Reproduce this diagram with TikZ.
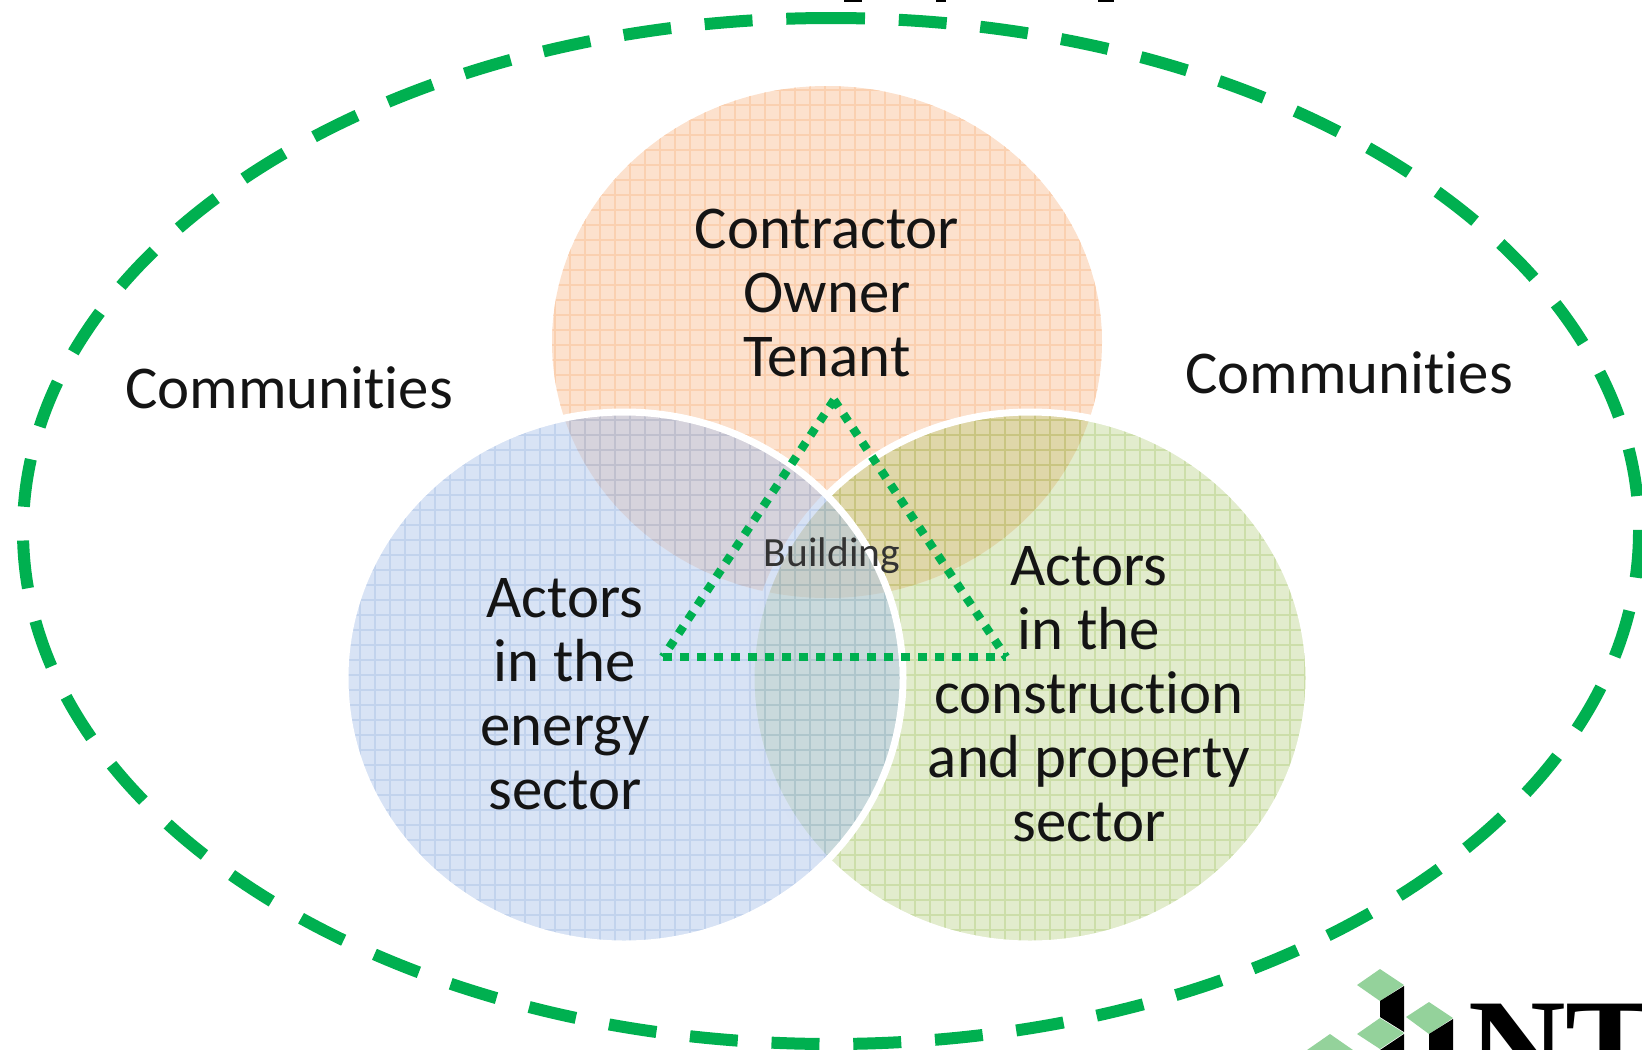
\documentclass[tikz,border=0pt]{standalone}
\usepackage{fontspec}
\setmainfont{Carlito}[Ligatures=NoCommon]
\newfontfamily\logofont{Liberation Serif}
\usetikzlibrary{positioning}
\definecolor{ringgreen}{RGB}{0,176,80}
\definecolor{logogreen}{RGB}{148,210,155}
\definecolor{orangefill}{RGB}{252,225,205}
\definecolor{orangegrid}{RGB}{250,208,176}
\definecolor{greenfill}{RGB}{158,192,88}
\definecolor{greengrid}{RGB}{150,185,80}
\definecolor{bluefill}{RGB}{177,199,235}
\definecolor{bluegrid}{RGB}{120,155,210}
\begin{document}
\begin{tikzpicture}[x=1pt,y=-1pt]
% -------------------------------------------------
% A few styles
\tikzset{
  label/.style={align=center, inner sep=0pt, text=black!92, font={\fontsize{60.8}{64}\selectfont}},
  small/.style={align=center, inner sep=0pt, text=black!80, font={\fontsize{41.5}{44}\selectfont}},
  ring/.style={draw=ringgreen, line width=12pt, dash pattern=on 48pt off 33.8pt, dash phase=14pt},
  tri/.style={draw=ringgreen, line width=8.5pt, dash pattern=on 8.5pt off 8.5pt},
  rim/.style={draw=white, line width=7pt},
  mesh/.style={line width=1.2pt, step=15pt},
  tile/.style={fill=logogreen},
  ink/.style={fill=black}
}
\useasboundingbox (0,0) rectangle (1642,1050);
% -------------------------------------------------
% Start with the three lobes, orange at the back and blue in front
\coordinate (corange) at (827,342);
\coordinate (cgreen) at (1030,678);
\coordinate (cblue) at (624,678);
\fill [orangefill] (corange) ellipse [x radius=275, y radius=256];
\begin{scope}
  \clip (corange) ellipse [x radius=275, y radius=256];
  \draw [mesh, orangegrid] (540,80) grid (1110,610);
\end{scope}
\fill [greenfill, fill opacity=.3] (cgreen) ellipse [x radius=279, y radius=266];
\begin{scope}
  \clip (cgreen) ellipse [x radius=279, y radius=266];
  \draw [mesh, greengrid, opacity=.28] (750,405) grid (1320,945);
\end{scope}
\draw [rim] (cgreen) ellipse [x radius=279, y radius=266];
\fill [bluefill, fill opacity=.5] (cblue) ellipse [x radius=279, y radius=266];
\begin{scope}
  \clip (cblue) ellipse [x radius=279, y radius=266];
  \draw [mesh, bluegrid, opacity=.22] (345,405) grid (905,945);
\end{scope}
\draw [rim] (cblue) ellipse [x radius=279, y radius=266];
% -------------------------------------------------
% The dashed ring round everything, begun at its top point
\coordinate (rtop) at (831,18);
\draw [ring] (rtop) arc [start angle=-90, end angle=270, x radius=808, y radius=513];
% -------------------------------------------------
% The dotted triangle
\coordinate (tapex) at (834,400);
\coordinate (tleft) at (663,657);
\coordinate (tright) at (1006,657);
\draw [tri] (tapex) -- (tleft);
\draw [tri] (tapex) -- (tright);
\draw [tri] (tleft) -- (tright);
% -------------------------------------------------
% Now the texts
\node [label] (top) at (827,293) {Contractor\\Owner\\Tenant};
\node [label] (energy) at (565,694) {Actors\\in the\\energy\\sector};
\node [label] (property) at (1089,694) {Actors\\in the\\construction\\and property\\sector};
\node [label] (commleft) at (289,388) {Communities};
\node [label] (commright) at (1349,373) {Communities};
\node [small] (building) at (832,556) {Building};
% -------------------------------------------------
% What is left of the line of text cut off at the top
\fill [ink] (844,0) rectangle (862,2);
\fill [ink] (936,0) rectangle (946,2);
\fill [ink] (1098,0) rectangle (1114,2);
% -------------------------------------------------
% The logo, cut off by the lower edge
\fill [tile] (1357,985) -- (1380,969) -- (1404,985) -- (1380,1001) -- cycle;
\fill [ink] (1380,1001) -- (1404,986) -- (1404,1032) -- (1380,1017) -- cycle;
\fill [tile] (1406,1017) -- (1429,1002) -- (1453,1018) -- (1429,1034) -- cycle;
\fill [ink] (1429,1034) -- (1453,1019) -- (1453,1050) -- (1429,1050) -- cycle;
\fill [tile] (1357,1034) -- (1380,1018) -- (1404,1033) -- (1380,1049) -- cycle;
\fill [ink] (1380,1050) -- (1404,1034) -- (1404,1050) -- cycle;
\fill [tile] (1307,1050) -- (1330,1034) -- (1353,1050) -- cycle;
\node [anchor=base west, inner sep=0pt, font={\logofont\bfseries\fontsize{135}{135}\selectfont}] (logo) at (1468,1092) {NTNU};
\end{tikzpicture}
\end{document}
